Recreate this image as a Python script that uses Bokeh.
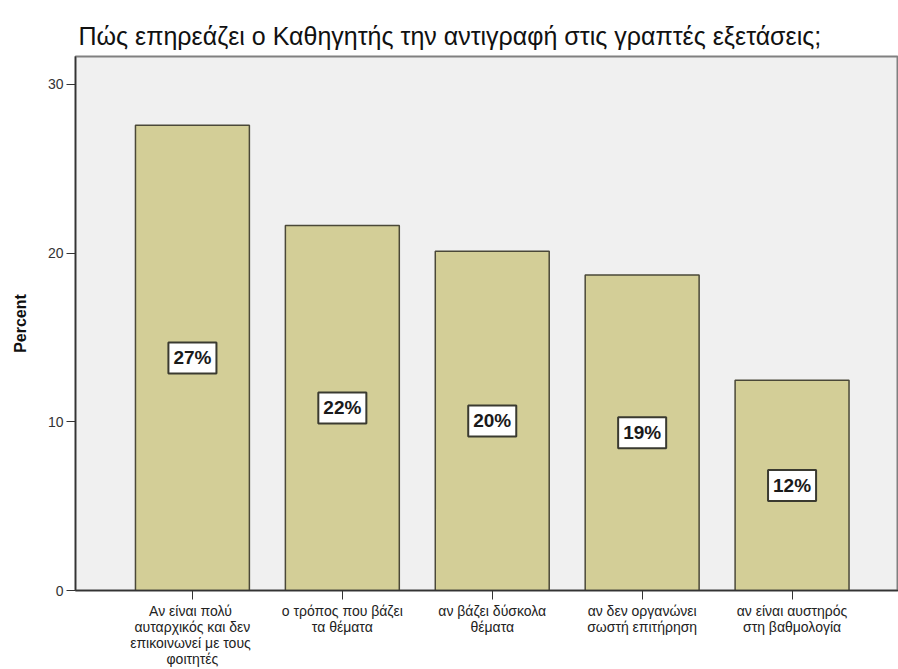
from bokeh.plotting import figure
from bokeh.models import Range1d, FixedTicker, ColumnDataSource
from bokeh.core.properties import value
from bokeh.embed import file_html
from bokeh.resources import INLINE

title_text = "Πώς επηρεάζει ο Καθηγητής την αντιγραφή στις γραπτές εξετάσεις;"
categories = [
    "Αν είναι  πολύ\nαυταρχικός και δεν\nεπικοινωνεί με  τους\nφοιτητές",
    "ο τρόπος που βάζει\nτα θέματα",
    "αν βάζει δύσκολα\nθέματα",
    "αν δεν οργανώνει\nσωστή επιτήρηση",
    "αν είναι αυστηρός\nστη βαθμολογία",
]
percents = [27.57, 21.64, 20.10, 18.70, 12.46]
labels = ["27%", "22%", "20%", "19%", "12%"]
y_ticks = [0, 10, 20, 30]

FONT = "Liberation Sans"
xs = list(range(1, len(categories) + 1))
src = ColumnDataSource(dict(
    x=xs, top=percents, mid=[v / 2 for v in percents], lab=labels,
))

p = figure(width=898, height=669, output_backend="svg", toolbar_location=None,
           x_range=Range1d(0.22, 5.71), y_range=Range1d(0, 31.65),
           min_border_left=75, min_border_right=0, min_border_top=56,
           min_border_bottom=77)

p.title.text = title_text
p.title.text_font = FONT
p.title.text_font_size = "25px"
p.title.text_font_style = "normal"
p.title.text_color = "#111111"
p.title.offset = 3
p.title.standoff = 13

p.background_fill_color = "#f0f0f0"
p.border_fill_color = "white"
p.outline_line_color = "#808080"
p.outline_line_width = 2
p.xgrid.visible = False
p.ygrid.visible = False

p.vbar(x="x", top="top", width=0.76, bottom=0, source=src,
       fill_color="#d3ce97", line_color="#4a4838", line_width=1.5)

p.text(x="x", y="mid", text="lab", source=src,
       text_font=value(FONT), text_font_size="19px", text_font_style="bold",
       text_color="#1a1a1a", text_align="center", text_baseline="middle",
       background_fill_color="white", border_line_color="#3a3a30",
       border_line_width=2, padding=5)

# y axis
p.yaxis.ticker = FixedTicker(ticks=y_ticks)
p.yaxis.axis_label = "Percent"
p.yaxis.axis_label_text_font = FONT
p.yaxis.axis_label_text_font_size = "16px"
p.yaxis.axis_label_text_font_style = "bold"
p.yaxis.axis_label_text_color = "#111111"
p.yaxis.axis_label_standoff = 16
p.yaxis.major_label_text_font = FONT
p.yaxis.major_label_text_font_size = "14px"
p.yaxis.major_label_text_color = "#333333"
p.yaxis.major_label_standoff = 3
p.yaxis.axis_line_color = "#333333"
p.yaxis.axis_line_width = 1.5
p.yaxis.major_tick_line_color = "#333333"
p.yaxis.major_tick_out = 9
p.yaxis.major_tick_in = 0
p.yaxis.minor_tick_line_color = None

# x axis
p.xaxis.ticker = FixedTicker(ticks=xs)
p.xaxis.major_label_overrides = {x: c for x, c in zip(xs, categories)}
p.xaxis.major_label_text_font = FONT
p.xaxis.major_label_text_font_size = "14px"
p.xaxis.major_label_text_line_height = 1.0
p.xaxis.major_label_text_color = "#222222"
p.xaxis.major_label_standoff = 3
p.xaxis.axis_line_color = "#333333"
p.xaxis.axis_line_width = 1.5
p.xaxis.major_tick_line_color = "#333333"
p.xaxis.major_tick_out = 9
p.xaxis.major_tick_in = 0
p.xaxis.minor_tick_line_color = None

open("out.html", "w").write(file_html(p, INLINE))
